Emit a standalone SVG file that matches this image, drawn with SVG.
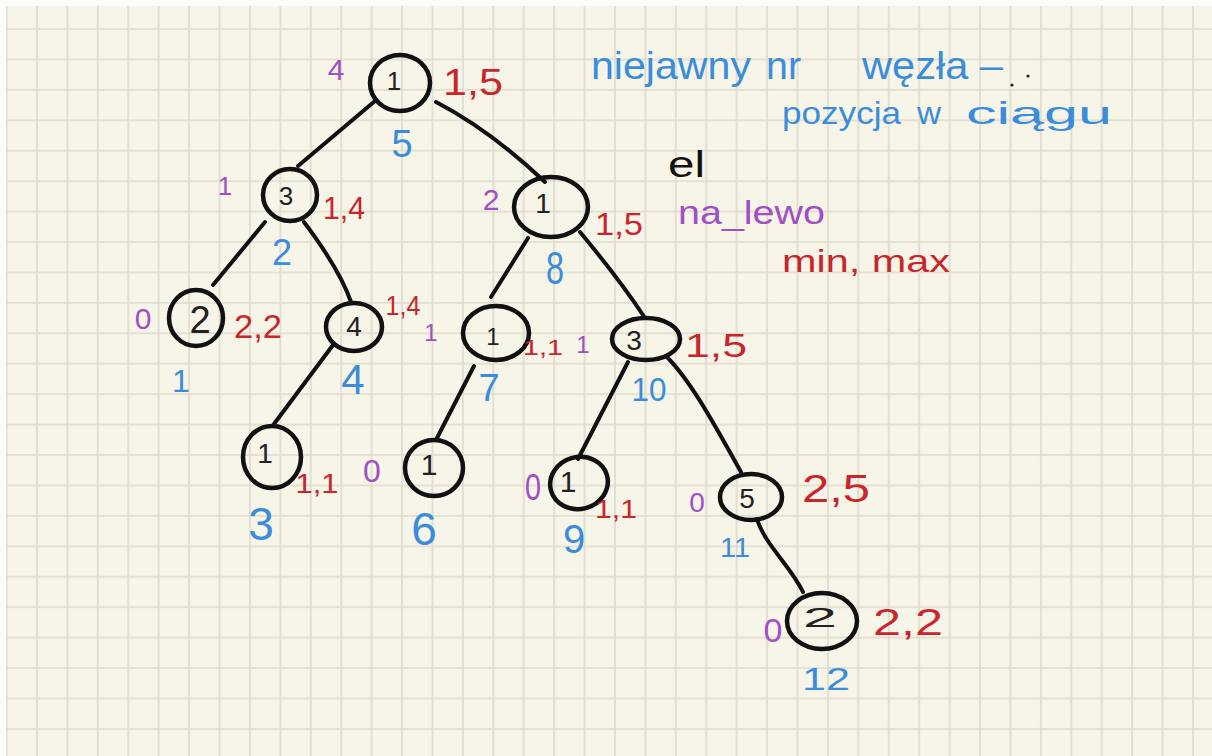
<svg xmlns="http://www.w3.org/2000/svg" width="1212" height="756" viewBox="0 0 1212 756">
<defs>
<pattern id="grid" x="5.6" y="-2.4" width="30.42" height="30.43" patternUnits="userSpaceOnUse">
<path d="M1,0 V30.43 M0,1 H30.42" stroke="#dedbcd" stroke-width="1.6" fill="none"/>
</pattern>
<style>
.node{fill:none;stroke:#111;stroke-width:4.5}
.edge{fill:none;stroke:#111;stroke-width:4;stroke-linecap:round;stroke-linejoin:round}
.num{font-family:"Liberation Sans","DejaVu Sans",sans-serif;fill:#222;text-anchor:middle}
.lbl{font-family:"Liberation Sans","DejaVu Sans",sans-serif;text-anchor:middle}
.p{fill:#a04fc4}
.r{fill:#c8262c}
.b{fill:#3a8ddb}
.note{font-family:"Liberation Sans","DejaVu Sans",sans-serif}
</style>
</defs>
<rect x="0" y="0" width="1212" height="756" fill="#fcfcf9"/>
<rect x="6" y="6" width="1206" height="750" fill="#f7f4e8"/>
<rect x="6" y="6" width="1206" height="750" fill="url(#grid)"/>

<g id="connectors">
<path class="edge" d="M375,101 L298,166"/>
<path class="edge" d="M436,102 Q490,130 545,182"/>
<path class="edge" d="M265,222 L213,285"/>
<path class="edge" d="M304,222 Q340,270 351,302"/>
<path class="edge" d="M333,345 L274,424"/>
<path class="edge" d="M528,238 L491,297"/>
<path class="edge" d="M580,232 Q620,280 645,318"/>
<path class="edge" d="M474,366 L437,438"/>
<path class="edge" d="M628,362 L578,459"/>
<path class="edge" d="M666,356 C690,380 712,420 741,472"/>
<path class="edge" d="M757,519 C765,545 790,565 803,592"/>
</g>

<g id="node-root">
<ellipse class="node" cx="400" cy="83" rx="30" ry="28"/>
<text class="num" x="394" y="90" font-size="26">1</text>
<text class="lbl p" x="336" y="80" font-size="30">4</text>
<text class="lbl r" x="473" y="95" font-size="36" textLength="60" lengthAdjust="spacingAndGlyphs">1,5</text>
<text class="lbl b" x="402" y="157" font-size="38">5</text>
</g>

<g id="node-2">
<ellipse class="node" cx="290" cy="195" rx="27" ry="26"/>
<text class="num" x="286" y="205" font-size="26">3</text>
<text class="lbl p" x="225" y="195" font-size="26">1</text>
<text class="lbl r" x="344" y="219" font-size="32" textLength="42" lengthAdjust="spacingAndGlyphs">1,4</text>
<text class="lbl b" x="282" y="265" font-size="36">2</text>
</g>

<g id="node-8">
<ellipse class="node" cx="551" cy="207" rx="37" ry="30"/>
<text class="num" x="543" y="213" font-size="28">1</text>
<text class="lbl p" x="491" y="210" font-size="30">2</text>
<text class="lbl r" x="619" y="235" font-size="32" textLength="48" lengthAdjust="spacingAndGlyphs">1,5</text>
<text class="lbl b" x="555" y="284" font-size="46" textLength="18" lengthAdjust="spacingAndGlyphs">8</text>
</g>

<g id="node-1">
<ellipse class="node" cx="196" cy="318" rx="27" ry="28"/>
<text class="num" x="200" y="333" font-size="38">2</text>
<text class="lbl p" x="143" y="329" font-size="30">0</text>
<text class="lbl r" x="258" y="338" font-size="34" textLength="48" lengthAdjust="spacingAndGlyphs">2,2</text>
<text class="lbl b" x="181" y="392" font-size="32">1</text>
</g>

<g id="node-4">
<ellipse class="node" cx="354" cy="327" rx="28" ry="24"/>
<text class="num" x="354" y="336" font-size="28">4</text>
<text class="lbl r" x="403" y="315" font-size="28" textLength="35" lengthAdjust="spacingAndGlyphs">1,4</text>
<text class="lbl b" x="353" y="394" font-size="42">4</text>
</g>

<g id="node-7">
<ellipse class="node" cx="496" cy="333" rx="33" ry="27"/>
<text class="num" x="493" y="345" font-size="24">1</text>
<text class="lbl p" x="431" y="341" font-size="24">1</text>
<text class="lbl r" x="543" y="355" font-size="22" textLength="40" lengthAdjust="spacingAndGlyphs">1,1</text>
<text class="lbl b" x="489" y="401" font-size="38">7</text>
</g>

<g id="node-10">
<ellipse class="node" cx="646" cy="339" rx="34" ry="21"/>
<text class="num" x="634" y="350" font-size="28">3</text>
<text class="lbl p" x="583" y="353" font-size="24">1</text>
<text class="lbl r" x="716" y="357" font-size="34" textLength="62" lengthAdjust="spacingAndGlyphs">1,5</text>
<text class="lbl b" x="649" y="401" font-size="34" textLength="35" lengthAdjust="spacingAndGlyphs">10</text>
</g>

<g id="node-3">
<ellipse class="node" cx="272" cy="457" rx="29" ry="31"/>
<text class="num" x="265" y="463" font-size="28">1</text>
<text class="lbl r" x="317" y="493" font-size="28" textLength="43" lengthAdjust="spacingAndGlyphs">1,1</text>
<text class="lbl b" x="261" y="540" font-size="46">3</text>
</g>

<g id="node-6">
<ellipse class="node" cx="434" cy="468" rx="29" ry="28"/>
<text class="num" x="429" y="475" font-size="30">1</text>
<text class="lbl p" x="372" y="482" font-size="32">0</text>
<text class="lbl b" x="424" y="545" font-size="46">6</text>
</g>

<g id="node-9">
<ellipse class="node" cx="579" cy="483" rx="29" ry="26" transform="rotate(-15 579 483)"/>
<text class="num" x="568" y="492" font-size="30">1</text>
<text class="lbl p" x="533" y="500" font-size="36" textLength="16" lengthAdjust="spacingAndGlyphs">0</text>
<text class="lbl r" x="616" y="518" font-size="26" textLength="42" lengthAdjust="spacingAndGlyphs">1,1</text>
<text class="lbl b" x="574" y="553" font-size="40">9</text>
</g>

<g id="node-11">
<ellipse class="node" cx="751" cy="497" rx="31" ry="23"/>
<text class="num" x="747" y="508" font-size="28">5</text>
<text class="lbl p" x="697" y="512" font-size="28">0</text>
<text class="lbl r" x="836" y="502" font-size="38" textLength="68" lengthAdjust="spacingAndGlyphs">2,5</text>
<text class="lbl b" x="735" y="557" font-size="28" textLength="30" lengthAdjust="spacingAndGlyphs">11</text>
</g>

<g id="node-12">
<ellipse class="node" cx="822" cy="621" rx="35" ry="28"/>
<text class="num" x="820" y="627" font-size="28" textLength="34" lengthAdjust="spacingAndGlyphs">2</text>
<text class="lbl p" x="773" y="642" font-size="34">0</text>
<text class="lbl r" x="908" y="635" font-size="36" textLength="70" lengthAdjust="spacingAndGlyphs">2,2</text>
<text class="lbl b" x="826" y="690" font-size="32" textLength="48" lengthAdjust="spacingAndGlyphs">12</text>
</g>

<g id="notes">
<text class="note b" x="591" y="79" font-size="38" textLength="160" lengthAdjust="spacingAndGlyphs">niejawny</text>
<text class="note b" x="766" y="79" font-size="38" textLength="35" lengthAdjust="spacingAndGlyphs">nr</text>
<text class="note b" x="862" y="79" font-size="38" textLength="141" lengthAdjust="spacingAndGlyphs">węzła –</text>
<circle cx="1028" cy="76" r="1.6" fill="#222"/>
<circle cx="1012" cy="85" r="1.6" fill="#222"/>
<text class="note b" x="782" y="124" font-size="32" textLength="119" lengthAdjust="spacingAndGlyphs">pozycja</text>
<text class="note b" x="917" y="124" font-size="32" textLength="24" lengthAdjust="spacingAndGlyphs">w</text>
<text class="note b" x="966" y="124" font-size="32" textLength="146" lengthAdjust="spacingAndGlyphs">ciągu</text>
<text class="note" fill="#111" x="668" y="177" font-size="36" textLength="37" lengthAdjust="spacingAndGlyphs">el</text>
<text class="note p" x="678" y="224" font-size="34" textLength="147" lengthAdjust="spacingAndGlyphs">na_lewo</text>
<text class="note r" x="782" y="272" font-size="32" textLength="168" lengthAdjust="spacingAndGlyphs">min, max</text>
</g>
</svg>
